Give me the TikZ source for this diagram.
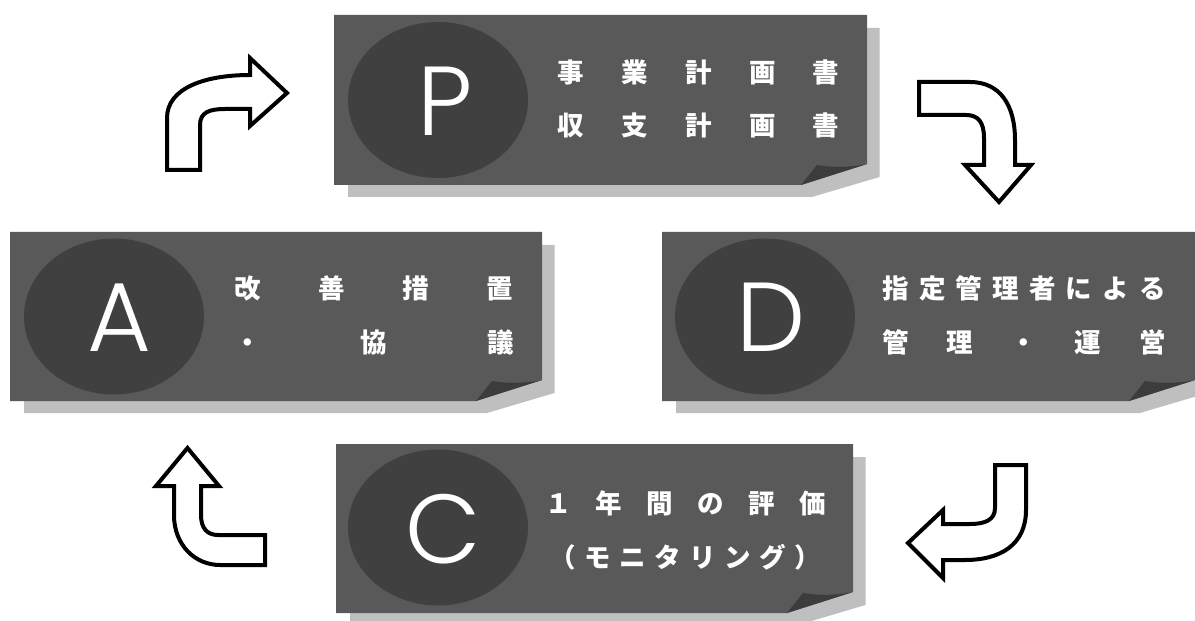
\documentclass[tikz,border=0pt]{standalone}
\usepackage{fontspec}
\newfontfamily\jp{Noto Sans CJK JP}
\newfontfamily\lat{Poppins}[UprightFont={* Light}]
\usetikzlibrary{shapes.geometric}
\definecolor{cardfill}{HTML}{595959}
\definecolor{circfill}{HTML}{404040}
\definecolor{shadowc}{HTML}{BFBFBF}
\definecolor{foldc}{HTML}{3C3C3C}
\newcommand{\drawcard}[4]{%
  \fill[shadowc] ({#1+14},{#2+13}) -- ({#3+12.5},{#2+13}) -- ({#3+12.5},{#4-8}) -- ({#3-55},{#4+12}) -- ({#1+14},{#4+12}) -- cycle;
  \fill[cardfill] (#1,#2) -- (#3,#2) -- (#3,{#4-21}) -- ({#3-66},#4) -- (#1,#4) -- cycle;
  \fill[foldc] ({#3-66},#4) -- ({#3-50},{#4-20}) .. controls ({#3-32},{#4-17}) and ({#3-15},{#4-18}) .. (#3,{#4-21}) -- cycle;
}
\newcommand{\spreadrow}[2]{\makebox[#1][s]{#2}}
\begin{document}
\begin{tikzpicture}[x=1bp,y=-1bp,
  circ/.style={ellipse, fill=circfill, minimum width=180bp, minimum height=156bp, inner sep=0},
  letter/.style={text=white, inner sep=0, font=\lat\fontsize{98bp}{98bp}\selectfont},
  jtext/.style={text=white, inner sep=0, font=\jp\bfseries\fontsize{26.5bp}{26.5bp}\selectfont},
  blockarrow/.style={draw=black, line width=4bp, fill=white, line join=miter, miter limit=10}]
\useasboundingbox (0,0) rectangle (1195,621);
\clip (0,0) rectangle (1195,621);

% cards
\drawcard{334}{15}{867}{185}
\drawcard{10}{232}{542}{401}
\drawcard{662}{232}{1195}{401}
\drawcard{336}{444}{853}{613}

% circles
\node[circ] (Pc) at (438,100) {};
\node[circ] (Ac) at (114,316.5) {};
\node[circ] (Dc) at (765,316.5) {};
\node[circ] (Cc) at (438,527.5) {};

% letters
\node[letter] (Pl) at (445,101) {P};
\node[letter] (Al) at (119,317.5) {A};
\node[letter] (Dl) at (771.5,317.5) {D};
\node[letter] (Cl) at (443,529) {C};

% texts
\node[jtext] (Pt1) at (698.5,72) {\spreadrow{282bp}{事\hfill 業\hfill 計\hfill 画\hfill 書}};
\node[jtext] (Pt2) at (698.5,125) {\spreadrow{282bp}{収\hfill 支\hfill 計\hfill 画\hfill 書}};
\node[jtext] (At1) at (374,288) {\spreadrow{279bp}{改\hfill 善\hfill 措\hfill 置}};
\node[jtext] (At2) at (374,342) {\spreadrow{279bp}{・\hfill 協\hfill 議}};
\node[jtext] (Dt1) at (1024,288) {\spreadrow{283bp}{指\hfill 定\hfill 管\hfill 理\hfill 者\hfill に\hfill よ\hfill る}};
\node[jtext] (Dt2) at (1024,342) {\spreadrow{283bp}{管\hfill 理\hfill ・\hfill 運\hfill 営}};
\node[jtext] (Ct1) at (685.5,503) {\spreadrow{281bp}{１\hfill 年\hfill 間\hfill の\hfill 評\hfill 価}};
\node[jtext] (Ct2) at (685,557) {\spreadrow{272bp}{（\hfill モ\hfill ニ\hfill タ\hfill リ\hfill ン\hfill グ\hfill ）}};

% block arrows
\draw[blockarrow] (167,170) -- (167,118) .. controls (167,88) and (205,75) .. (250,75) -- (250,58) -- (287,93) -- (250,126) -- (250,109) -- (225,109) .. controls (210,109) and (200,112) .. (200,125) -- (200,170) -- cycle;
\draw[blockarrow] (919,82) -- (970,82) .. controls (1000,82) and (1015,105) .. (1015,140) -- (1015,165) -- (1031,165) -- (999,202) -- (965,165) -- (984,165) -- (984,138) .. controls (984,122) and (978,115) .. (966,115) -- (919,115) -- cycle;
\draw[blockarrow] (995,465) -- (1026,465) -- (1026,510) .. controls (1026,545) and (1000,560) .. (965,560) -- (943,560) -- (943,578) -- (908,543) -- (943,510) -- (943,524) -- (970,524) .. controls (985,524) and (995,520) .. (995,508) -- cycle;
\draw[blockarrow] (265,535) -- (218,535) .. controls (207,535) and (201,528) .. (201,515) -- (201,486) -- (219,486) -- (187.5,448) -- (156,486) -- (174,486) -- (174,515) .. controls (174,545) and (195,565) .. (220,565) -- (265,565) -- cycle;
\end{tikzpicture}
\end{document}
